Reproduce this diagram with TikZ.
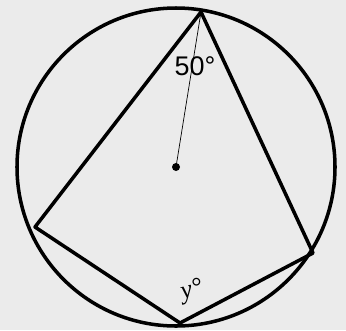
\documentclass[tikz,border=0pt]{standalone}
\usepackage{fontspec}
\setmainfont{Liberation Sans}
\newfontfamily\serifit{Liberation Serif}
\usetikzlibrary{positioning}
\definecolor{paper}{RGB}{235,235,235}
\definecolor{radius}{RGB}{170,110,120}

\begin{document}
\begin{tikzpicture}[x=0.03cm, y=-0.03cm]
	% параметры
	\def\R{159}        % радиус окружности
	\def\L{3pt}        % толщина линий

	% фон
	\fill[paper] (0,0) rectangle (346,330);
	\useasboundingbox (0,0) rectangle (346,330);

	% центр и вершины
	\coordinate (O) at (176,167);
	\coordinate (T) at (201,12);
	\coordinate (Lf) at (35,227);
	\coordinate (B) at (180,323);
	\coordinate (Rt) at (313,253);

	% окружность
	\draw[line width=\L] (O) circle[radius=\R];

	% вписанный четырёхугольник
	\draw[line width=\L, line join=round] (T) -- (Lf) -- (B) -- (Rt) -- cycle;

	% радиус и центр
	\draw[radius, line width=0.6pt] (T) -- (O);
	\fill (O) circle[radius=4];

	% подписи
	\node (a50) at (195,66) {\fontsize{23}{26}\selectfont 50°};
	\node[rotate=15] (ay) at (192,291) {\fontsize{22}{24}\selectfont\serifit\itshape y°};
\end{tikzpicture}
\end{document}
